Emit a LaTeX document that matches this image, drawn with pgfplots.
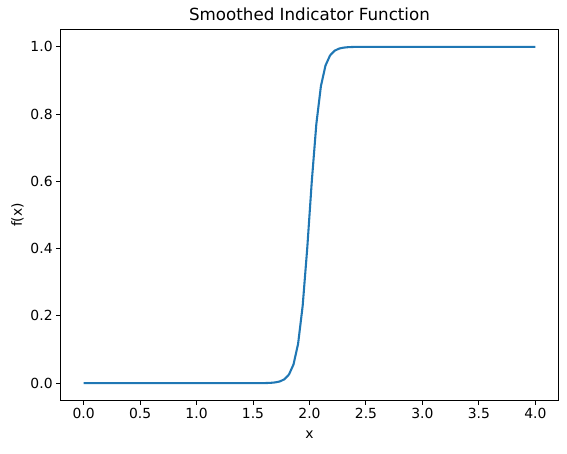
\documentclass[border=0pt]{standalone}
\usepackage{pgfplots}
\pgfplotsset{compat=1.18}
\usepackage{fontspec}
\setmainfont{DejaVu Sans}
\definecolor{mplblue}{HTML}{1F77B4}
\begin{document}
\begin{tikzpicture}[x=1pt,y=1pt]
\useasboundingbox (-61,-53) rectangle (506,400);
\begin{axis}[
  at={(0,0)}, anchor=south west,
  scale only axis, width=497pt, height=370pt,
  xmin=-0.2, xmax=4.2, ymin=-0.05, ymax=1.05,
  xtick={0,0.5,...,4}, ytick={0,0.2,...,1},
  xticklabel style={/pgf/number format/.cd, fixed, fixed zerofill, precision=1},
  yticklabel style={/pgf/number format/.cd, fixed, fixed zerofill, precision=1},
  /pgf/number format/assume math mode=true,
  tick label style={font=\fontsize{13.9}{16}\selectfont},
  label style={font=\fontsize{13.9}{16}\selectfont},
  xlabel style={yshift=-5pt},
  title style={font=\fontsize{16.7}{20}\selectfont, yshift=0pt},
  tick align=outside, tick pos=lower,
  major tick length=4.86pt,
  axis line style={line width=1.0pt},
  every tick/.style={line width=1.0pt, black},
  title={Smoothed Indicator Function},
  xlabel={x}, ylabel={f(x)},
]
\addplot[mplblue, line width=2.08pt, line join=round] coordinates {
(0,0) (1.5354,0.00009) (1.5758,0.00021) (1.6162,0.00046) (1.6566,0.00104)
(1.6970,0.00233) (1.7374,0.0052) (1.7778,0.0116) (1.8182,0.0257)
(1.8586,0.0558) (1.8990,0.1171) (1.9394,0.2294) (1.9798,0.4003)
(2.0202,0.5997) (2.0606,0.7706) (2.1010,0.8829) (2.1414,0.9442)
(2.1818,0.9743) (2.2222,0.9884) (2.2626,0.9948) (2.3030,0.99767)
(2.3434,0.99896) (2.3838,0.99954) (2.4242,0.99979) (2.4646,0.99991)
(4,1)
};
\end{axis}
\end{tikzpicture}
\end{document}
